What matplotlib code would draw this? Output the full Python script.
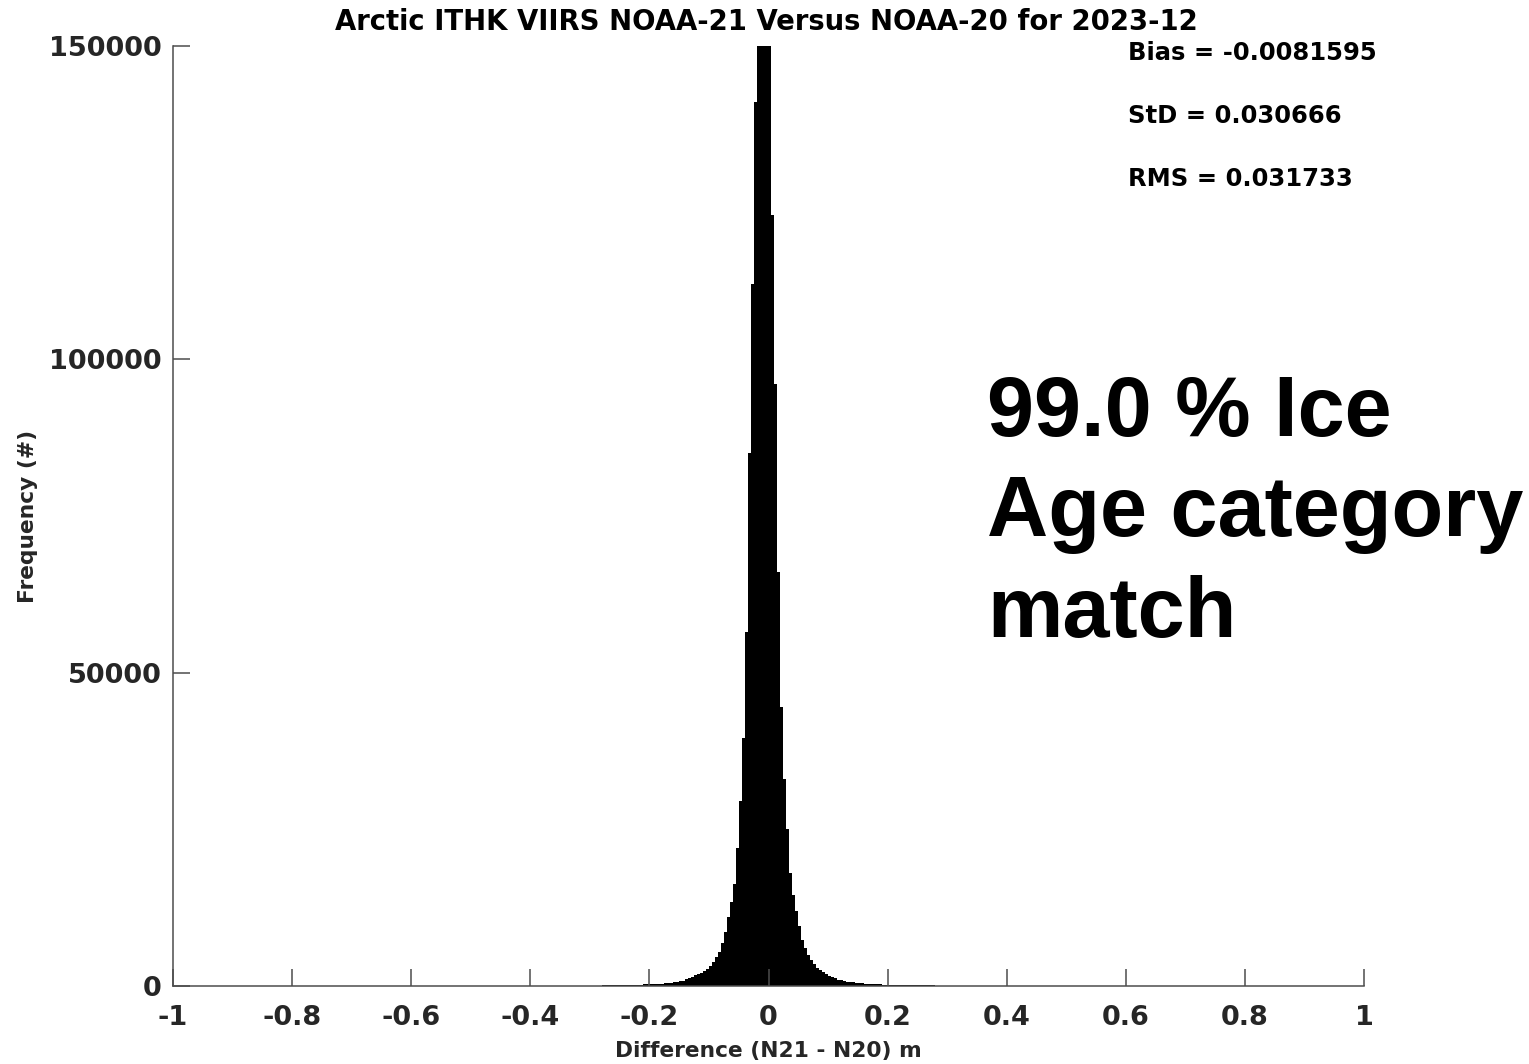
import numpy as np
import matplotlib
matplotlib.use("Agg")
import matplotlib.pyplot as plt

# ---- data ----
bin_start = -0.28
bin_width = 0.005
counts_left = [135, 140, 145, 150, 155, 161, 167, 173, 180, 188, 196, 206, 215, 226, 240, 252,
               270, 290, 315, 345, 385, 420, 470, 530, 610, 680, 750, 850, 1100, 1300,
               1500, 1750, 1950, 2150, 2350, 2750, 3250, 3900, 4550, 5500, 6900, 8600,
               11000, 13400, 16300, 22000, 29500, 39500, 56500, 85000, 112000, 141000,
               173000, 209000]
counts_right = [221000, 189000, 153000, 123000, 96000, 66000, 44500, 33000, 25000, 18000,
                14500, 12000, 9500, 7400, 6000, 4900, 4200, 3500, 2950, 2500, 2200, 1980,
                1650, 1400, 1200, 1020, 930, 790, 710, 640, 560, 490, 440, 400, 360, 330,
                300, 280, 260, 245, 232, 220, 210, 200, 192, 184, 176, 170, 164, 158, 152,
                147, 142, 137, 132, 128, 120, 100]
counts = np.array(counts_left + counts_right, dtype=float)
edges = bin_start + bin_width * np.arange(len(counts) + 1)

x_ticks = [-1, -0.8, -0.6, -0.4, -0.2, 0, 0.2, 0.4, 0.6, 0.8, 1]
x_tick_labels = ["-1", "-0.8", "-0.6", "-0.4", "-0.2", "0", "0.2", "0.4", "0.6", "0.8", "1"]
y_ticks = [0, 50000, 100000, 150000]
y_tick_labels = ["0", "50000", "100000", "150000"]

title = "Arctic ITHK VIIRS NOAA-21 Versus NOAA-20 for 2023-12"
stats = ["Bias = -0.0081595", "StD = 0.030666", "RMS = 0.031733"]
big_text = "99.0 % Ice\nAge category\nmatch"

# ---- figure ----
W, H = 1529, 1064
fig = plt.figure(figsize=(W / 100, H / 100), dpi=100)
ax = fig.add_axes([173 / W, 1 - 986 / H, (1364 - 173) / W, (986 - 46) / H])

ax.stairs(counts, edges, fill=True, color="black", linewidth=0.6)

ax.set_xlim(-1, 1)
ax.set_ylim(0, 150000)
ax.set_xticks(x_ticks)
ax.set_xticklabels(x_tick_labels)
ax.set_yticks(y_ticks)
ax.set_yticklabels(y_tick_labels)

spine_col = "#4d4d4d"
for s in ["top", "right"]:
    ax.spines[s].set_visible(False)
for s in ["left", "bottom"]:
    ax.spines[s].set_color(spine_col)
    ax.spines[s].set_linewidth(1.1)

ax.tick_params(direction="in", length=12, width=1.1, color=spine_col,
               labelsize=19.5, labelcolor="#262626")
for lab in ax.get_xticklabels() + ax.get_yticklabels():
    lab.set_fontweight("bold")
ax.tick_params(axis="x", pad=14)
ax.tick_params(axis="y", pad=8)

ax.set_xlabel("Difference (N21 - N20) m", fontsize=15.7, fontweight="bold",
              color="#262626", labelpad=7)
ax.set_ylabel("Frequency (#)", fontsize=15.7, fontweight="bold",
              color="#262626", labelpad=8)

fig.text(766 / W, 1 - 22 / H, title, ha="center", va="center",
         fontsize=19.8, fontweight="bold", color="black")

for i, s in enumerate(stats):
    fig.text(1128 / W, 1 - (53 + 63 * i) / H, s, ha="left", va="center",
             fontsize=17.5, fontweight="bold", color="black")

fig.text(987 / W, 1 - 374 / H, big_text, ha="left", va="top",
         fontsize=61, fontweight="bold", color="black",
         family="Liberation Sans", linespacing=1.33)

fig.savefig("out.png", dpi=100, facecolor="white")
